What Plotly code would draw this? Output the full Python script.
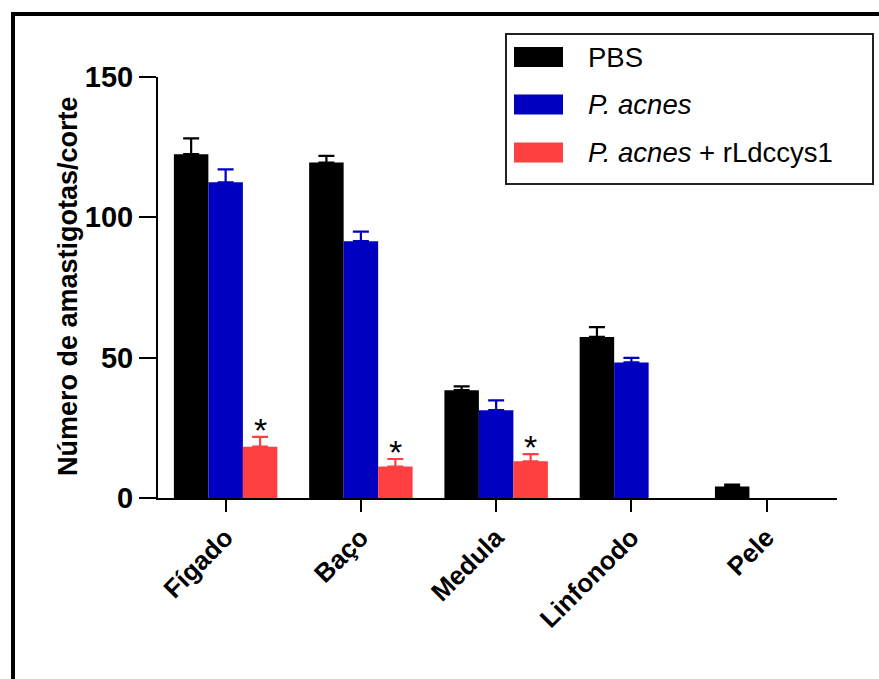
import plotly.graph_objects as go

categories = ["Fígado", "Baço", "Medula", "Linfonodo", "Pele"]
series_names = ["PBS", "<i>P. acnes</i>", "<i>P. acnes</i> + rLdccys1"]
pbs_values = [122.5, 119.5, 38.4, 57.4, 4.1]
pbs_err = [5.6, 2.4, 1.4, 3.5, 0.7]
acnes_values = [112.5, 91.5, 31.3, 48.3, None]
acnes_err = [4.6, 3.4, 3.5, 1.6, None]
combo_values = [18.3, 11.2, 13.1, None, None]
combo_err = [3.5, 2.7, 2.5, None, None]
significance = ["*", "*", "*", None, None]
y_ticks = [0, 50, 100, 150]
colors = ["#000000", "#0000C0", "#FF4040"]

FONT = "Liberation Sans, Arial, sans-serif"
W, H = 879, 679
L, R, T, B = 158, 42, 77, 181
pw, ph = W - L - R, H - T - B

def px_x(p):
    return (p - L) / pw

def px_y(p):
    return (H - B - p) / ph

xs = list(range(len(categories)))
fig = go.Figure()
for vals, errs, col, name in zip([pbs_values, acnes_values, combo_values],
                                 [pbs_err, acnes_err, combo_err], colors, series_names):
    fig.add_trace(go.Bar(
        x=xs, y=vals, name=name, marker=dict(color=col, line=dict(width=0)),
        error_y=dict(type="data", symmetric=False, array=[e if e is not None else 0 for e in errs],
                     arrayminus=[0] * len(errs), color=col, thickness=2.2, width=8),
        showlegend=False,
    ))

group_w = 0.765
bar_w = group_w / 3
annotations = []
for i, s in enumerate(significance):
    if s:
        annotations.append(dict(x=xs[i] + bar_w, y=combo_values[i] + combo_err[i], xref="x", yref="y",
                                text=s, showarrow=False, yanchor="bottom", yshift=-14,
                                font=dict(family=FONT, size=34, color="black")))

# y axis title
annotations.append(dict(x=px_x(68), y=px_y(286), xref="paper", yref="paper",
                        text="<b>Número de amastigotas/corte</b>", textangle=-90, showarrow=False,
                        xanchor="center", yanchor="middle",
                        font=dict(family=FONT, size=27, color="black")))

shapes = []
# outer frame
shapes.append(dict(type="rect", xref="paper", yref="paper", x0=px_x(13), x1=px_x(920),
                   y0=px_y(720), y1=px_y(14), line=dict(color="black", width=4), layer="above"))
# legend box
shapes.append(dict(type="rect", xref="paper", yref="paper", x0=px_x(506), x1=px_x(873),
                   y0=px_y(184), y1=px_y(34), line=dict(color="#222222", width=2),
                   fillcolor="white", layer="above"))
row_centers = [57, 104.5, 152.5]
for yc, col, name in zip(row_centers, colors, series_names):
    shapes.append(dict(type="rect", xref="paper", yref="paper", x0=px_x(514), x1=px_x(563),
                       y0=px_y(yc + 10), y1=px_y(yc - 10), line=dict(width=0), fillcolor=col,
                       layer="above"))
    annotations.append(dict(x=px_x(586), y=px_y(yc), xref="paper", yref="paper", text=name,
                            showarrow=False, xanchor="left", yanchor="middle",
                            font=dict(family=FONT, size=27.5, color="black")))

fig.update_layout(
    width=W, height=H, margin=dict(l=L, r=R, t=T, b=B, autoexpand=False),
    paper_bgcolor="white", plot_bgcolor="white",
    barmode="group", bargap=1 - group_w, bargroupgap=0,
    font=dict(family=FONT, color="black"),
    annotations=annotations, shapes=shapes,
    xaxis=dict(range=[-0.5, 4.52], tickvals=xs, ticktext=categories, tickangle=-45,
               showline=True, linecolor="black", linewidth=2, ticks="outside", ticklen=12,
               tickwidth=2, tickcolor="black", showgrid=False, zeroline=False,
               tickfont=dict(family=FONT, size=26, color="black", weight="bold"),
               automargin=False, fixedrange=True),
    yaxis=dict(range=[0, 150], tickvals=y_ticks, showline=True, linecolor="black", linewidth=2,
               ticks="outside", ticklen=17, tickwidth=2, tickcolor="black", showgrid=False,
               zeroline=False, tickfont=dict(family=FONT, size=29, color="black", weight="bold"),
               automargin=False, fixedrange=True),
)

fig.write_html("out.html")
